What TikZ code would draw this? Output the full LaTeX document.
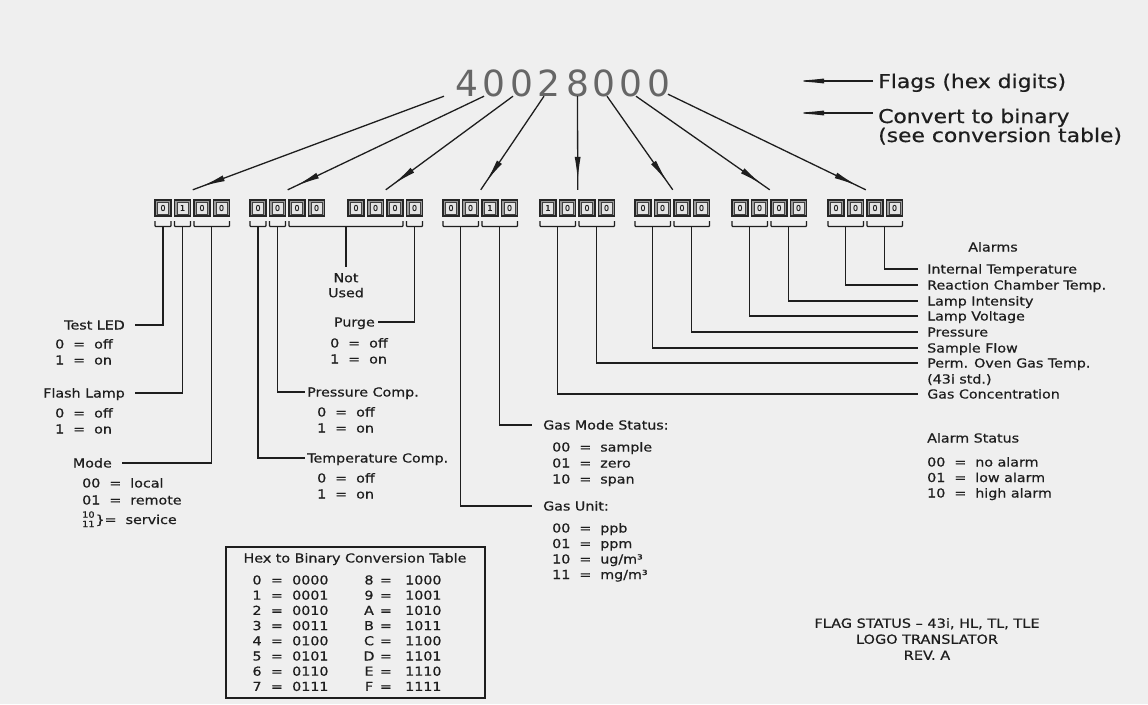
\documentclass[tikz,border=0pt]{standalone}
\usepackage{fontspec}
\setmainfont{DejaVu Sans}[FakeStretch=1.15,FakeBold=0.6]
\newfontfamily\plainfont{DejaVu Sans}
\newfontfamily\boxfont{DejaVu Sans}[FakeBold=0.5]
\usetikzlibrary{arrows.meta,decorations.markings}
\definecolor{bg}{HTML}{EFEFEF}
\definecolor{ink}{HTML}{1E1E1E}
\definecolor{boxfill}{HTML}{9A9A9A}
\definecolor{boxin}{HTML}{E4E4E4}
\newcommand\kvtab[1]{\begin{tabular}[t]{@{}l@{\hspace{9pt}=\hspace{9pt}}l@{}}#1\end{tabular}}
\newcommand\bracketat[3]{%
  \draw[brk] (#1,221) -- (#1,226.5) -- (#2,226.5) -- (#2,221);
  \coordinate (#3) at ({(#1+#2)/2},226.5);}
\begin{document}
\begin{tikzpicture}[x=1pt,y=-1pt,
 every node/.style={text=ink},
 lbl/.style={inner ysep=0pt, text height=9pt, text depth=0pt, font=\fontsize{12.4}{16}\selectfont},
 biglbl/.style={inner xsep=5pt, inner ysep=0pt, text height=14pt, text depth=0pt, font=\fontsize{19}{22}\selectfont},
 vals/.style={inner sep=0pt, anchor=base west, font=\fontsize{12.4}{16}\selectfont},
 tight/.style={inner sep=0pt, anchor=base west, font=\fontsize{12.4}{15.5}\selectfont},
 wire/.style={draw=ink, line width=1.4pt},
 brk/.style={draw=ink, line width=1.3pt, rounded corners=0.8pt},
 digit/.style={inner sep=0pt, text height=26pt, text depth=0pt, text=black!60, font=\plainfont\fontsize{36}{36}\selectfont},
 group/.style={minimum width=75.5pt, minimum height=16pt, inner sep=0pt},
 bitbox/.style={draw=black!85, fill=boxfill, line width=1.1pt, minimum width=16pt, minimum height=16pt, inner sep=0pt},
 bitin/.style={draw=black!75, fill=boxin, line width=0.6pt, minimum width=11pt, minimum height=12pt, inner sep=0pt, font=\boxfont\fontsize{8}{8}\selectfont},
 flagarrow/.style={draw=ink, line width=1.3pt, postaction={decorate}, decoration={markings, mark=at position -9pt with {\arrow{Latex[length=24pt,width=6pt]}}}},
 legarrow/.style={draw=ink, line width=1.2pt, -{Latex[length=32pt,width=5pt]}},
 tbltext/.style={inner sep=0pt, text height=9pt, text depth=0pt, font=\fontsize{12.4}{15}\selectfont}
]
\fill[bg] (0,0) rectangle (1148,704);
\useasboundingbox (0,0) rectangle (1148,704);

% hex digits
\node[digit] (d1) at (467,83) {4};
\node[digit] (d2) at (494,83) {0};
\node[digit] (d3) at (522,83) {0};
\node[digit] (d4) at (549,83) {2};
\node[digit] (d5) at (577.5,83) {8};
\node[digit] (d6) at (604,83) {0};
\node[digit] (d7) at (631,83) {0};
\node[digit] (d8) at (659,83) {0};

% legend
\node[biglbl, anchor=west] (flags) at (873,81) {Flags (hex digits)};
\coordinate (fa) at (792,81);
\draw[legarrow] (flags) -- (fa);
\node[biglbl, anchor=west] (conv) at (873,116) {Convert to binary};
\node[biglbl, anchor=west] (convnote) at (873,135) {(see conversion table)};
\coordinate (fb) at (792,113);
\draw[legarrow] ([yshift=3pt]conv.west) -- (fb);

% bit groups
\foreach \i/\gx/\ba/\bb/\bc/\bd in {1/155/0/1/0/0, 2/250/0/0/0/0, 3/348/0/0/0/0, 4/443/0/0/1/0, 5/540/1/0/0/0, 6/635/0/0/0/0, 7/732/0/0/0/0, 8/828/0/0/0/0}{
  \node[group] (g\i) at (\gx+37.75,208) {};
  \foreach \k/\v in {0/\ba,1/\bb,2/\bc,3/\bd}{
    \node[bitbox] (b\i\k) at (\gx+8+19.5*\k,208) {};
    \node[bitin] (c\i\k) at (b\i\k) {\v};
  }
}

% arrows from digits to groups
\draw[flagarrow] ([xshift=-23pt]d1.south) -- ([yshift=10pt]g1.north);
\draw[flagarrow] ([xshift=-10pt]d2.south) -- ([yshift=10pt]g2.north);
\draw[flagarrow] ([xshift=-9pt]d3.south) -- ([yshift=10pt]g3.north);
\draw[flagarrow] ([xshift=-5pt]d4.south) -- ([yshift=10pt]g4.north);
\draw[flagarrow] (d5.south) -- ([yshift=10pt]g5.north);
\draw[flagarrow] ([xshift=3pt]d6.south) -- ([yshift=10pt]g6.north);
\draw[flagarrow] ([xshift=5pt]d7.south) -- ([yshift=10pt]g7.north);
\draw[flagarrow] ([xshift=9pt,yshift=2pt]d8.south) -- ([yshift=10pt]g8.north);

% brackets
\bracketat{155}{171}{k1}
\bracketat{174.5}{190.5}{k2}
\bracketat{194}{229.5}{k3}
\bracketat{250}{266}{k4}
\bracketat{269.5}{285.5}{k5}
\bracketat{289}{403}{k6}
\bracketat{406.5}{422.5}{k7}
\bracketat{443}{478.5}{k8}
\bracketat{482}{517.5}{k9}
\bracketat{540}{575.5}{k10}
\bracketat{579}{614.5}{k11}
\bracketat{635}{670.5}{k12}
\bracketat{674}{709.5}{k13}
\bracketat{732}{767.5}{k14}
\bracketat{771}{806.5}{k15}
\bracketat{828}{863.5}{k16}
\bracketat{867}{902.5}{k17}

% left labels
\node[lbl, inner xsep=10pt, anchor=east] (testled) at (135,325) {Test LED};
\node[vals] (testvals) at (55,348.5) {\kvtab{0&off\\1&on}};
\node[lbl, inner xsep=10pt, anchor=east] (flash) at (135,393) {Flash Lamp};
\node[vals] (flashvals) at (55,417.5) {\kvtab{0&off\\1&on}};
\node[lbl, inner xsep=10pt, anchor=east] (mode) at (122,463) {Mode};
\node[vals, font=\fontsize{12.4}{17}\selectfont] (modevals) at (82,487.5) {\kvtab{00&local\\01&remote}};
\node[vals] (modesvc) at (82,524) {\raisebox{-3pt}{\fontsize{8.5}{8}\selectfont\shortstack{10\\11}}\hspace{1pt}\}=\hspace{9pt}service};
\draw[wire] (k1) |- (testled);
\draw[wire] (k2) |- (flash);
\draw[wire] (k3) |- (mode);

% middle-left labels
\node[lbl, inner xsep=2pt, anchor=west] (tempcomp) at (305,458) {Temperature Comp.};
\node[vals] (tempvals) at (317,482.5) {\kvtab{0&off\\1&on}};
\node[lbl, inner xsep=2pt, anchor=west] (prescomp) at (305,392) {Pressure Comp.};
\node[vals] (presvals) at (317,416.5) {\kvtab{0&off\\1&on}};
\node[inner ysep=6pt, inner xsep=2pt, anchor=north, align=center, font=\fontsize{12.4}{15}\selectfont] (notused) at (346,267) {Not\\Used};
\node[lbl, inner xsep=3pt, anchor=east] (purge) at (378,322) {Purge};
\node[vals] (purgevals) at (330,347.5) {\kvtab{0&off\\1&on}};
\draw[wire] (k4) |- (tempcomp);
\draw[wire] (k5) |- (prescomp);
\draw[wire] (k6) -- (notused);
\draw[wire] (k7) |- (purge);

% gas labels
\node[lbl, inner xsep=11pt, anchor=west] (gasmode) at (532,425) {Gas Mode Status:};
\node[vals] (gasmodevals) at (552,451.5) {\kvtab{00&sample\\01&zero\\10&span}};
\node[lbl, inner xsep=11pt, anchor=west] (gasunit) at (532,506) {Gas Unit:};
\node[tight] (gasunitvals) at (552,532.5) {\kvtab{00&ppb\\01&ppm\\10&ug/m³\\11&mg/m³}};
\draw[wire] (k8) |- (gasunit);
\draw[wire] (k9) |- (gasmode);

% alarm labels
\node[lbl, inner xsep=0pt] (alarms) at (993,247) {Alarms};
\node[lbl, inner xsep=9pt, anchor=west] (inttemp) at (918,269) {Internal Temperature};
\node[lbl, inner xsep=9pt, anchor=west] (reactemp) at (918,285) {Reaction Chamber Temp.};
\node[lbl, inner xsep=9pt, anchor=west] (lampint) at (918,301) {Lamp Intensity};
\node[lbl, inner xsep=9pt, anchor=west] (lampvolt) at (918,316) {Lamp Voltage};
\node[lbl, inner xsep=9pt, anchor=west] (pressure) at (918,332) {Pressure};
\node[lbl, inner xsep=9pt, anchor=west] (sampleflow) at (918,348) {Sample Flow};
\node[lbl, inner xsep=9pt, anchor=west] (permoven) at (918,363) {Perm. Oven Gas Temp.};
\node[lbl, inner xsep=9pt, anchor=west] (permnote) at (918,379) {(43i std.)};
\node[lbl, inner xsep=9pt, anchor=west] (gasconc) at (918,394) {Gas Concentration};
\draw[wire] (k17) |- (inttemp);
\draw[wire] (k16) |- (reactemp);
\draw[wire] (k15) |- (lampint);
\draw[wire] (k14) |- (lampvolt);
\draw[wire] (k13) |- (pressure);
\draw[wire] (k12) |- (sampleflow);
\draw[wire] (k11) |- (permoven);
\draw[wire] (k10) |- (gasconc);

\node[lbl, inner xsep=9pt, anchor=west] (alarmstatus) at (918,438) {Alarm Status};
\node[tight] (alarmvals) at (927,466.5) {\kvtab{00&no alarm\\01&low alarm\\10&high alarm}};

% conversion table
\node[draw=ink, line width=1.6pt, minimum width=259pt, minimum height=151pt, anchor=north west, inner sep=0pt] (tbl) at (225,546) {};
\node[tbltext] (tblhead) at (355,558) {Hex to Binary Conversion Table};
\foreach \i/\ha/\xa/\hb/\xb in {0/0/0000/8/1000, 1/1/0001/9/1001, 2/2/0010/A/1010, 3/3/0011/B/1011, 4/4/0100/C/1100, 5/5/0101/D/1101, 6/6/0110/E/1110, 7/7/0111/F/1111}{
  \node[tbltext] (ha\i) at (257,580+15.2*\i) {\ha};
  \node[tbltext] (ea\i) at (277,580+15.2*\i) {=};
  \node[tbltext, anchor=west] (xa\i) at (292,580+15.2*\i) {\xa};
  \node[tbltext] (hb\i) at (369,580+15.2*\i) {\hb};
  \node[tbltext] (eb\i) at (386,580+15.2*\i) {=};
  \node[tbltext, anchor=west] (xb\i) at (405,580+15.2*\i) {\xb};
}

% title block
\node[align=center, inner sep=0pt, font=\fontsize{12.6}{16}\selectfont] (titleblock) at (927,639) {FLAG STATUS – 43i, HL, TL, TLE\\LOGO TRANSLATOR\\REV. A};
\end{tikzpicture}
\end{document}
